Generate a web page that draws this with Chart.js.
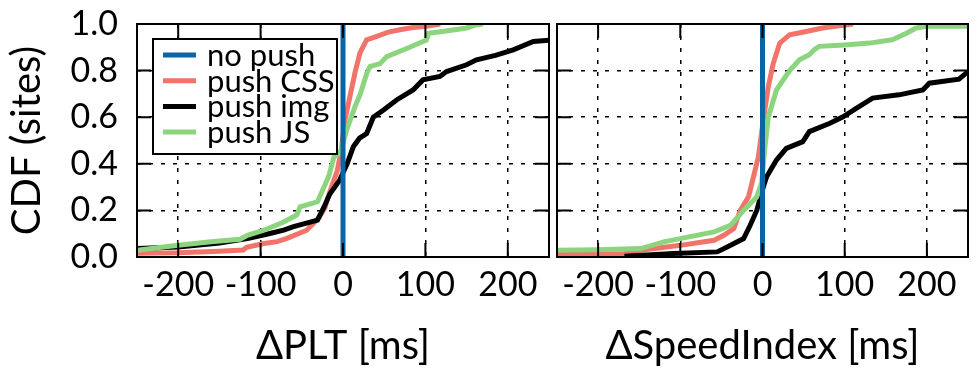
<!DOCTYPE html>
<html>
<head>
<meta charset="utf-8">
<script src="https://cdn.jsdelivr.net/npm/chart.js@4"></script>
<style>
  body { margin: 0; background: #fff; }
  #left { position: absolute; left: 0; top: 0; }
  #right { position: absolute; left: 552px; top: 0; }
</style>
</head>
<body>
<canvas id="left" width="552" height="375"></canvas>
<canvas id="right" width="423" height="375"></canvas>
<script>
// series names / colours, tick values
const seriesNames = ['no push', 'push CSS', 'push img', 'push JS'];
const seriesColors = ['#0b64a3', '#f1736a', '#000000', '#8cd47e'];
const xTicks = [-200, -100, 0, 100, 200];
const yTicks = [0, 0.2, 0.4, 0.6, 0.8, 1.0];

// baseline: vertical line at 0
const noPush = [[0, 0], [0, 1]];

// ΔPLT panel  [delta ms, CDF]
const pltCss = [[-250,0.016],[-200,0.018],[-150,0.025],[-121,0.03],[-117,0.042],[-96,0.058],[-80,0.066],[-68,0.08],[-44,0.115],[-29,0.17],[-22,0.21],[-17,0.27],[-7,0.37],[-2,0.46],[2.4,0.59],[8.5,0.69],[14.5,0.79],[20.6,0.876],[28.7,0.932],[41,0.947],[55,0.965],[69,0.975],[85,0.985],[101,0.99],[118,1.0]];
const pltImg = [[-250,0.036],[-200,0.043],[-150,0.06],[-116,0.079],[-90,0.1],[-72,0.115],[-60,0.13],[-31,0.158],[-23,0.215],[-16,0.27],[-4,0.33],[5,0.4],[12.5,0.473],[20,0.51],[28.7,0.53],[36.8,0.6],[48.8,0.63],[65,0.674],[85,0.717],[97,0.76],[117.6,0.775],[125.7,0.796],[150,0.825],[162,0.846],[185,0.865],[206.6,0.889],[231,0.925],[251,0.93]];
const pltJs = [[-250,0.029],[-200,0.05],[-160,0.065],[-125,0.076],[-116,0.093],[-96,0.115],[-72,0.15],[-56,0.18],[-52,0.215],[-31,0.237],[-23,0.3],[-17,0.35],[-11,0.43],[-3.6,0.446],[4.5,0.545],[14.5,0.645],[21,0.7],[29,0.79],[32.7,0.817],[45,0.83],[53,0.86],[81,0.9],[97,0.925],[101,0.93],[104,0.96],[125,0.97],[150,0.983],[162,0.997],[170,1.0]];

// ΔSpeedIndex panel
const siCss = [[-250,0.015],[-200,0.013],[-168,0.014],[-148,0.029],[-100,0.05],[-59,0.072],[-47,0.093],[-35,0.122],[-27,0.2],[-17,0.258],[-11,0.344],[-5,0.43],[1,0.588],[7,0.73],[13,0.83],[21,0.918],[33,0.954],[53,0.968],[73,0.983],[98,0.995],[110,1.0]];
const siImg = [[-168,0.003],[-108,0.015],[-55,0.022],[-43,0.043],[-23,0.079],[-15,0.136],[-7,0.2],[1,0.3],[5,0.344],[17,0.416],[29,0.466],[49,0.495],[57,0.538],[82,0.574],[98,0.602],[114,0.638],[134,0.682],[166,0.696],[195,0.717],[203,0.746],[239,0.763],[250,0.796]];
const siJs = [[-250,0.029],[-200,0.031],[-148,0.036],[-120,0.065],[-59,0.108],[-39,0.136],[-23,0.2],[-7,0.258],[-1,0.32],[3,0.473],[7,0.6],[17,0.717],[33,0.8],[45,0.846],[57,0.868],[63,0.89],[69,0.904],[100,0.91],[130,0.918],[158,0.932],[175,0.96],[187,0.983],[199,0.99],[250,0.99]];

const FONT = 'Lato, "DejaVu Sans", sans-serif';

// frame around plot + inward tick marks
const frame = {
  id: 'frame',
  afterDraw(chart) {
    const ctx = chart.ctx;
    const a = chart.chartArea;
    const xs = chart.scales.x, ys = chart.scales.y;
    ctx.save();
    ctx.strokeStyle = '#000';
    ctx.lineWidth = 2;
    ctx.strokeRect(a.left, a.top, a.right - a.left, a.bottom - a.top);
    ctx.beginPath();
    xTicks.forEach(v => {
      const px = xs.getPixelForValue(v);
      ctx.moveTo(px, a.bottom); ctx.lineTo(px, a.bottom - 14);
      ctx.moveTo(px, a.top); ctx.lineTo(px, a.top + 14);
    });
    yTicks.forEach(v => {
      const py = ys.getPixelForValue(v);
      ctx.moveTo(a.left, py); ctx.lineTo(a.left + 14, py);
      ctx.moveTo(a.right, py); ctx.lineTo(a.right - 14, py);
    });
    ctx.stroke();
    ctx.restore();
  }
};

// boxed legend inside the left panel
const legendBox = {
  id: 'legendBox',
  afterDraw(chart) {
    const ctx = chart.ctx;
    const a = chart.chartArea;
    const bx = a.left + 16, by = a.top + 15, bw = 184, bh = 115;
    ctx.save();
    ctx.fillStyle = '#fff';
    ctx.fillRect(bx, by, bw, bh);
    ctx.strokeStyle = '#000';
    ctx.lineWidth = 2;
    ctx.strokeRect(bx, by, bw, bh);
    ctx.font = '31px ' + FONT;
    ctx.textBaseline = 'middle';
    chart.data.datasets.forEach((ds, i) => {
      const ry = by + 16 + i * 25.7;
      ctx.strokeStyle = ds.borderColor;
      ctx.lineWidth = 5;
      ctx.beginPath();
      ctx.moveTo(bx + 10, ry); ctx.lineTo(bx + 43, ry);
      ctx.stroke();
      ctx.fillStyle = '#000';
      ctx.fillText(ds.label, bx + 54, ry + 1);
    });
    ctx.restore();
  }
};

function makeChart(id, xTitle, css, img, js, showY) {
  const series = [noPush, css, img, js];
  const order = [0, 3, 2, 1];
  new Chart(document.getElementById(id), {
    type: 'line',
    data: {
      datasets: series.map((s, i) => ({
        label: seriesNames[i],
        data: s.map(p => ({ x: p[0], y: p[1] })),
        borderColor: seriesColors[i],
        backgroundColor: seriesColors[i],
        borderWidth: 5,
        pointRadius: 0,
        tension: 0,
        fill: false,
        order: order[i]
      }))
    },
    options: {
      responsive: false,
      animation: false,
      devicePixelRatio: 1,
      layout: { padding: { top: 24, right: showY ? 3 : 7, bottom: 0, left: 0 } },
      plugins: { legend: { display: false }, tooltip: { enabled: false } },
      scales: {
        x: {
          type: 'linear', min: -250, max: 250, z: 1,
          afterBuildTicks: s => { s.ticks = xTicks.map(v => ({ value: v })); },
          afterFit: s => { s.height = 118; s.paddingLeft = 0; s.paddingRight = 0; },
          grid: { color: '#000', lineWidth: 1.5, drawTicks: false },
          border: { display: false, dash: [4, 8] },
          ticks: { color: '#000', font: { family: FONT, size: 34 }, padding: 8, maxRotation: 0, autoSkip: false },
          title: { display: true, text: xTitle, color: '#000', font: { family: FONT, size: 40 }, padding: { top: 0, bottom: 5 } }
        },
        y: {
          type: 'linear', min: 0, max: 1, z: 1,
          afterBuildTicks: s => { s.ticks = yTicks.map(v => ({ value: v })); },
          afterFit: s => { s.width = showY ? 137 : 5; s.paddingTop = 0; s.paddingBottom = 0; },
          grid: { color: '#000', lineWidth: 1.5, drawTicks: false },
          border: { display: false, dash: [4, 8] },
          ticks: { display: showY, color: '#000', font: { family: FONT, size: 34 }, padding: 19, autoSkip: false, callback: v => v.toFixed(1) },
          title: { display: showY, text: 'CDF (sites)', color: '#000', font: { family: FONT, size: 40 }, padding: { top: 3, bottom: 0 } }
        }
      }
    },
    plugins: showY ? [frame, legendBox] : [frame]
  });
}

makeChart('left', 'ΔPLT [ms]', pltCss, pltImg, pltJs, true);
makeChart('right', 'ΔSpeedIndex [ms]', siCss, siImg, siJs, false);
</script>
</body>
</html>
